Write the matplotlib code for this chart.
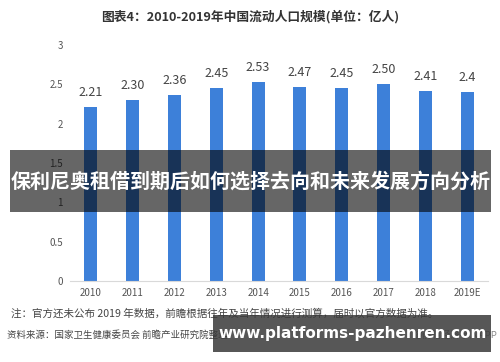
import matplotlib
matplotlib.use("Agg")
import matplotlib.pyplot as plt
from matplotlib.patches import Rectangle

plt.rcParams['font.family'] = ['Noto Sans CJK SC', 'DejaVu Sans']

# data
years = ['2010', '2011', '2012', '2013', '2014', '2015', '2016', '2017', '2018', '2019E']
population = [2.21, 2.30, 2.36, 2.45, 2.53, 2.47, 2.45, 2.50, 2.41, 2.40]
value_labels = ['2.21', '2.30', '2.36', '2.45', '2.53', '2.47', '2.45', '2.50', '2.41', '2.4']
y_ticks = [0, 0.5, 1, 1.5, 2, 2.5, 3]
y_tick_labels = ['0', '0.5', '1', '1.5', '2', '2.5', '3']

fig = plt.figure(figsize=(5, 3.62), dpi=100)
ax = fig.add_axes([0.14, 0.224, 0.836, 0.652])

x = list(range(len(years)))
ax.bar(x, population, width=0.31, color='#3d80d9', zorder=2)
for i, v in enumerate(population):
    ax.text(i, v + 0.1, value_labels[i], ha='center', va='bottom', fontsize=9, color='#444444')

ax.set_xlim(-0.5, len(years) - 0.5)
ax.set_ylim(0, 3)
ax.set_xticks(x)
ax.set_xticklabels(years, fontsize=7, color='#555555')
ax.set_yticks(y_ticks)
ax.set_yticklabels(y_tick_labels, fontsize=7, color='#555555')
ax.tick_params(length=0, pad=5)
for s in ['top', 'right', 'left']:
    ax.spines[s].set_visible(False)
ax.spines['bottom'].set_color('#d9d9d9')

# title and footnotes
fig.text(0.5, 0.955, '图表4：2010-2019年中国流动人口规模(单位：亿人)', ha='center', va='center',
         fontsize=9.2, fontweight='bold', color='#333333')
fig.text(0.022, 0.135, '注：官方还未公布 2019 年数据，前瞻根据往年及当年情况进行测算，届时以官方数据为准。',
         ha='left', va='center', fontsize=7.6, color='#444444')
fig.text(0.014, 0.075, '资料来源：国家卫生健康委员会 前瞻产业研究院整理', ha='left', va='center',
         fontsize=6.8, color='#444444')
fig.text(0.995, 0.075, '@前瞻经济学人APP', ha='right', va='center', fontsize=6.8, color='#888888')

# overlay banners
fig.patches.append(Rectangle((0.02, 0.414), 0.962, 0.172, transform=fig.transFigure,
                             facecolor='#000000', alpha=0.6, zorder=5))
fig.text(0.501, 0.5, '保利尼奥租借到期后如何选择去向和未来发展方向分析', ha='center', va='center',
         fontsize=14.4, fontweight='bold', color='white', zorder=6)
fig.patches.append(Rectangle((0.426, 0.028), 0.556, 0.102, transform=fig.transFigure,
                             facecolor='#3a3a3a', alpha=0.85, zorder=5))
fig.text(0.705, 0.079, 'www.platforms-pazhenren.com', ha='center', va='center',
         fontsize=11, fontweight='bold', color='white', zorder=6, family='DejaVu Sans')

fig.savefig('out.png', dpi=100)
